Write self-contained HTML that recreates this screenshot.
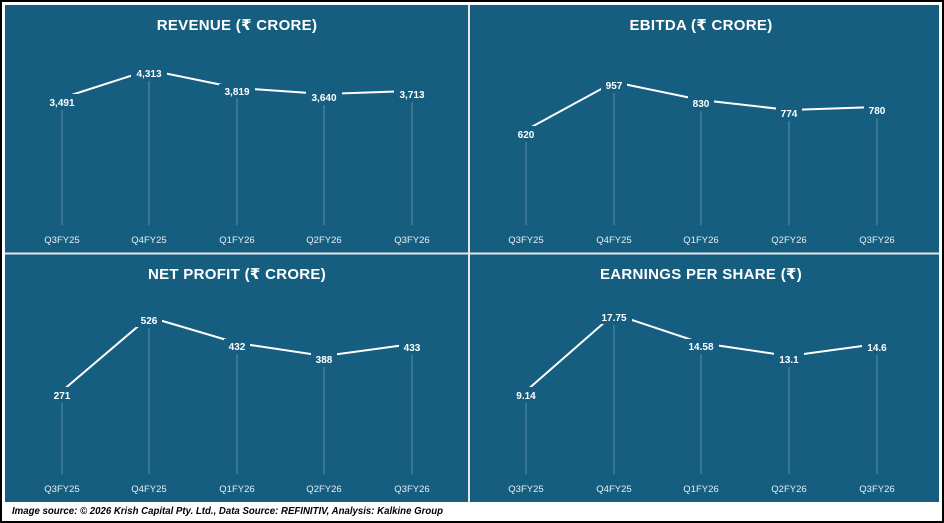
<!DOCTYPE html>
<html><head><meta charset="utf-8"><style>
body{margin:0;background:#fff}
svg{display:block}
text{font-family:"Liberation Sans","DejaVu Sans",sans-serif}
</style></head><body>
<svg width="944" height="523" viewBox="0 0 944 523">
<rect x="0" y="0" width="944" height="523" fill="#fff"/>
<rect x="1" y="1" width="942" height="521" fill="none" stroke="#000" stroke-width="2"/>
<rect x="5" y="5" width="934" height="497" fill="#165e80"/>
<line x1="469" y1="5" x2="469" y2="502" stroke="#e6e6e6" stroke-width="2"/>
<line x1="5" y1="253.5" x2="939" y2="253.5" stroke="#e6e6e6" stroke-width="2"/>
<g fill="#fff" font-weight="bold" font-size="15" text-anchor="middle" letter-spacing="0.3">
<text x="237" y="30">REVENUE (₹ CRORE)</text>
<text x="701" y="30">EBITDA (₹ CRORE)</text>
<text x="237" y="279">NET PROFIT (₹ CRORE)</text>
<text x="701" y="279">EARNINGS PER SHARE (₹)</text>
</g>
<g stroke="#c0d4de" stroke-width="0.8" opacity="0.5">
<line x1="62" y1="110" x2="62" y2="225"/><line x1="149" y1="81" x2="149" y2="225"/><line x1="237" y1="98" x2="237" y2="225"/><line x1="324" y1="105" x2="324" y2="225"/><line x1="412" y1="102" x2="412" y2="225"/>
<line x1="526" y1="142" x2="526" y2="225"/><line x1="614" y1="93" x2="614" y2="225"/><line x1="701" y1="111" x2="701" y2="225"/><line x1="789" y1="121" x2="789" y2="225"/><line x1="877" y1="118" x2="877" y2="225"/>
<line x1="62" y1="403" x2="62" y2="474"/><line x1="149" y1="328" x2="149" y2="474"/><line x1="237" y1="354" x2="237" y2="474"/><line x1="324" y1="367" x2="324" y2="474"/><line x1="412" y1="355" x2="412" y2="474"/>
<line x1="526" y1="403" x2="526" y2="474"/><line x1="614" y1="325" x2="614" y2="474"/><line x1="701" y1="354" x2="701" y2="474"/><line x1="789" y1="367" x2="789" y2="474"/><line x1="877" y1="355" x2="877" y2="474"/>
</g>
<g fill="none" stroke="#fff" stroke-width="2">
<polyline points="62,98 149,70 237,88 324,94 412,91"/>
<polyline points="526,130 614,82 701,100 789,110 877,107"/>
<polyline points="62,391 149,317 237,343 324,356 412,344"/>
<polyline points="526,391 614,314 701,343 789,356 877,344"/>
</g>
<g fill="#165e80">
<rect x="44" y="94" width="36" height="14"/><rect x="131" y="66" width="36" height="14"/><rect x="219" y="84" width="36" height="14"/><rect x="306" y="90" width="36" height="14"/><rect x="394" y="87" width="36" height="14"/>
<rect x="513" y="126" width="26" height="14"/><rect x="601" y="78" width="26" height="14"/><rect x="688" y="96" width="26" height="14"/><rect x="776" y="106" width="26" height="14"/><rect x="864" y="103" width="26" height="14"/>
<rect x="49" y="387" width="26" height="14"/><rect x="136" y="313" width="26" height="14"/><rect x="224" y="339" width="26" height="14"/><rect x="311" y="352" width="26" height="14"/><rect x="399" y="340" width="26" height="14"/>
<rect x="511" y="387" width="30" height="14"/><rect x="596" y="310" width="36" height="14"/><rect x="683" y="339" width="36" height="14"/><rect x="774" y="352" width="30" height="14"/><rect x="862" y="340" width="30" height="14"/>
</g>
<g fill="#fff" font-weight="bold" font-size="10" text-anchor="middle">
<text x="62" y="106">3,491</text><text x="149" y="77">4,313</text><text x="237" y="95">3,819</text><text x="324" y="101">3,640</text><text x="412" y="98">3,713</text>
<text x="526" y="138">620</text><text x="614" y="89">957</text><text x="701" y="107">830</text><text x="789" y="117">774</text><text x="877" y="114">780</text>
<text x="62" y="399">271</text><text x="149" y="324">526</text><text x="237" y="350">432</text><text x="324" y="363">388</text><text x="412" y="351">433</text>
<text x="526" y="399">9.14</text><text x="614" y="321">17.75</text><text x="701" y="350">14.58</text><text x="789" y="363">13.1</text><text x="877" y="351">14.6</text>
</g>
<g fill="#e8eef2" font-size="9.5" text-anchor="middle">
<text x="62" y="243">Q3FY25</text><text x="149" y="243">Q4FY25</text><text x="237" y="243">Q1FY26</text><text x="324" y="243">Q2FY26</text><text x="412" y="243">Q3FY26</text>
<text x="526" y="243">Q3FY25</text><text x="614" y="243">Q4FY25</text><text x="701" y="243">Q1FY26</text><text x="789" y="243">Q2FY26</text><text x="877" y="243">Q3FY26</text>
<text x="62" y="492">Q3FY25</text><text x="149" y="492">Q4FY25</text><text x="237" y="492">Q1FY26</text><text x="324" y="492">Q2FY26</text><text x="412" y="492">Q3FY26</text>
<text x="526" y="492">Q3FY25</text><text x="614" y="492">Q4FY25</text><text x="701" y="492">Q1FY26</text><text x="789" y="492">Q2FY26</text><text x="877" y="492">Q3FY26</text>
</g>
<text x="12" y="514" font-size="10" font-weight="bold" font-style="italic" fill="#000" textLength="431" lengthAdjust="spacingAndGlyphs">Image source: © 2026 Krish Capital Pty. Ltd., Data Source: REFINITIV, Analysis: Kalkine Group</text>
</svg>
</body></html>
